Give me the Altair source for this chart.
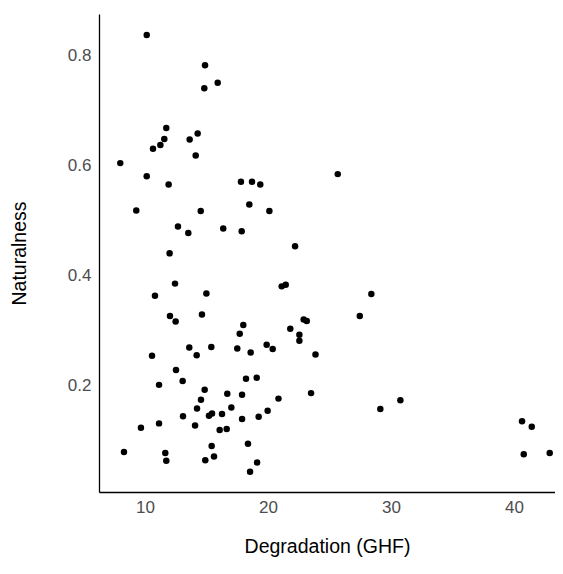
import altair as alt
import pandas as pd

degradation = [
    10.14, 14.88, 15.91, 14.82, 11.73, 14.28, 11.57, 13.63, 11.25, 10.65,
    14.12, 7.99, 10.14, 11.92, 17.80, 18.70, 19.37, 18.48, 20.11, 9.29,
    14.53, 12.68, 13.52, 16.36, 17.86, 25.67, 12.00, 22.20, 12.44, 10.81,
    14.99, 21.11, 21.44, 28.40, 12.03, 12.49, 14.63, 17.99, 17.70, 13.60,
    15.39, 17.50, 10.57, 14.20, 12.52, 11.14, 13.06, 14.85, 14.55, 16.69,
    17.89, 14.23, 17.02, 15.20, 15.45, 16.26, 13.09, 17.89, 9.67, 11.14,
    14.07, 16.07, 16.64, 15.42, 8.29, 11.65, 11.73, 14.90, 15.61, 22.90,
    23.15, 21.81, 22.55, 22.55, 27.46, 23.86, 19.89, 20.38, 18.59, 18.21,
    19.08, 20.85, 23.50, 19.24, 19.97, 29.13, 18.37, 19.11, 18.54, 30.76,
    40.65, 41.44, 40.79, 42.90,
]
naturalness = [
    0.838, 0.783, 0.751, 0.741, 0.669, 0.659, 0.649, 0.648, 0.638, 0.631,
    0.619, 0.605, 0.581, 0.566, 0.571, 0.571, 0.566, 0.530, 0.518, 0.519,
    0.518, 0.490, 0.478, 0.486, 0.481, 0.585, 0.441, 0.454, 0.386, 0.364,
    0.368, 0.381, 0.384, 0.367, 0.327, 0.317, 0.330, 0.311, 0.295, 0.270,
    0.271, 0.268, 0.255, 0.256, 0.229, 0.202, 0.209, 0.193, 0.175, 0.186,
    0.184, 0.159, 0.161, 0.146, 0.150, 0.149, 0.145, 0.140, 0.124, 0.132,
    0.128, 0.120, 0.122, 0.091, 0.080, 0.078, 0.064, 0.065, 0.072, 0.321,
    0.318, 0.304, 0.293, 0.282, 0.327, 0.257, 0.275, 0.267, 0.261, 0.213,
    0.215, 0.177, 0.187, 0.144, 0.155, 0.158, 0.095, 0.061, 0.044, 0.174,
    0.136, 0.126, 0.076, 0.078,
]
x_ticks = [10, 20, 30, 40]
y_ticks = [0.2, 0.4, 0.6, 0.8]

df = pd.DataFrame({"Degradation": degradation, "Naturalness": naturalness})

FONT = "Liberation Sans"

chart = alt.Chart(df).mark_circle(size=42, color="black", opacity=1).encode(
    x=alt.X(
        "Degradation:Q",
        scale=alt.Scale(domain=[6.26, 43.33], nice=False, zero=False),
        axis=alt.Axis(
            title="Degradation (GHF)",
            values=x_ticks,
            format="d",
            grid=False,
            ticks=False,
            domainColor="black",
            domainWidth=1.3,
            labelColor="#4d4d4d",
            labelFontSize=17,
            labelFont=FONT,
            labelPadding=7,
            titleFont=FONT,
            titleFontSize=19.5,
            titleFontWeight="normal",
            titleColor="black",
            titlePadding=22,
        ),
    ),
    y=alt.Y(
        "Naturalness:Q",
        scale=alt.Scale(domain=[0.0073, 0.876], nice=False, zero=False),
        axis=alt.Axis(
            title="Naturalness",
            values=y_ticks,
            format=".1f",
            grid=False,
            ticks=False,
            domainColor="black",
            domainWidth=1.3,
            labelColor="#4d4d4d",
            labelFontSize=17,
            labelFont=FONT,
            labelPadding=8,
            titleFont=FONT,
            titleFontSize=19.5,
            titleFontWeight="normal",
            titleColor="black",
            titlePadding=38,
        ),
    ),
).properties(
    width=456,
    height=478,
    autosize=alt.AutoSizeParams(type="none"),
    padding={"left": 91, "top": 6, "right": 0, "bottom": 70},
).configure_view(stroke=None)

chart.save("out.html", embed_options={"renderer": "svg", "actions": False})
